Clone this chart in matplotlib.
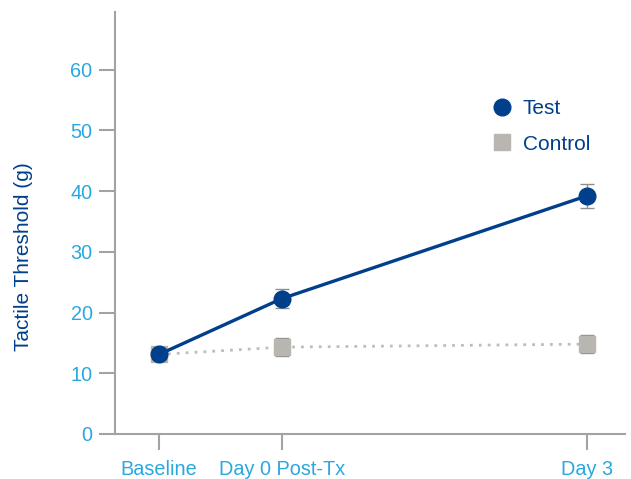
import matplotlib
matplotlib.use('Agg')
import matplotlib.pyplot as plt

# data
days = ['Baseline', 'Day 0 Post-Tx', 'Day 3']
xpos = [0, 1, 3.48]
test = [13.1, 22.3, 39.2]
test_err = [0.8, 1.6, 2.0]
control = [13.1, 14.3, 14.8]
control_err = [0.9, 1.5, 1.5]

dark_blue = '#003f8c'
light_blue = '#29a8e0'
grey = '#b9b6b2'
axis_grey = '#a3a3a3'

plt.rcParams['font.family'] = ['Liberation Sans', 'DejaVu Sans']

fig = plt.figure(figsize=(6.31, 4.79), dpi=100)
ax = fig.add_axes([0.182, 0.094, 0.808, 0.881])

# control first so test sits on top
ax.errorbar(xpos, control, yerr=control_err, fmt='none', ecolor='#8f8f8f',
            elinewidth=1, capsize=5, capthick=1, zorder=2)
ax.plot(xpos, control, color='#bdbdbd', linestyle=(0, (1, 2.2)), linewidth=2, zorder=2)
ax.plot(xpos, control, linestyle='none', marker='s', markersize=12,
        color=grey, label='Control', zorder=3)

ax.errorbar(xpos, test, yerr=test_err, fmt='none', ecolor='#8f8f8f',
            elinewidth=1, capsize=5, capthick=1, zorder=4)
ax.plot(xpos, test, color=dark_blue, linewidth=2.4, zorder=5)
ax.plot(xpos, test, linestyle='none', marker='o', markersize=12,
        color=dark_blue, label='Test', zorder=6)

ax.set_xlim(-0.36, 3.79)
ax.set_ylim(0, 69.5)
ax.set_yticks(range(0, 61, 10))
ax.set_xticks(xpos)
ax.set_xticklabels(days)

for s in ['top', 'right']:
    ax.spines[s].set_visible(False)
for s in ['left', 'bottom']:
    ax.spines[s].set_color(axis_grey)
    ax.spines[s].set_linewidth(1.5)

ax.tick_params(axis='y', colors=axis_grey, labelcolor=light_blue, labelsize=14.3,
               length=11.5, width=1.5, pad=4.5, direction='out')
ax.tick_params(axis='x', colors=axis_grey, labelcolor=light_blue, labelsize=14.3,
               length=11.5, width=1.5, pad=7.5, direction='out')
ax.set_ylabel('Tactile Threshold (g)', color=dark_blue, fontsize=15)
ax.yaxis.set_label_coords(-0.161, 0.42)

h, l = ax.get_legend_handles_labels()
leg = ax.legend([h[1], h[0]], [l[1], l[0]], loc='upper left',
                bbox_to_anchor=(0.698, 0.838), frameon=False, fontsize=15,
                handletextpad=0.4, labelspacing=0.8, handlelength=1.2)
for t in leg.get_texts():
    t.set_color(dark_blue)

plt.savefig('out.png', dpi=100)
